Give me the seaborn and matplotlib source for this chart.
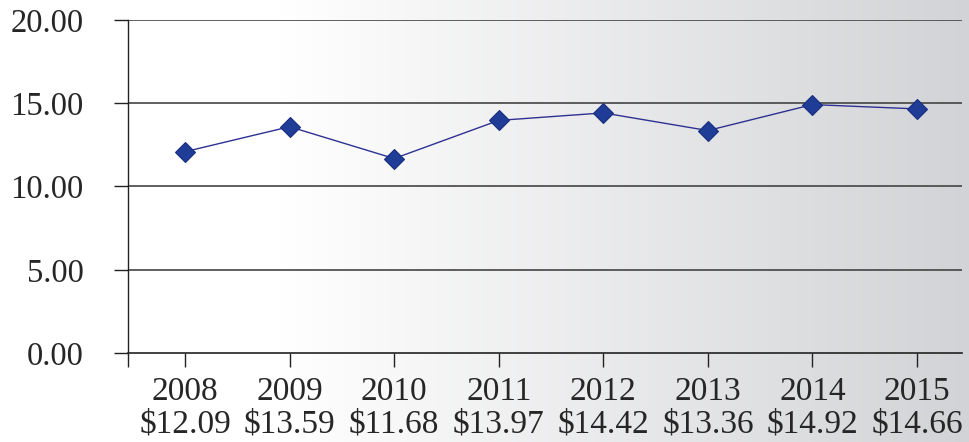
import numpy as np
import matplotlib
matplotlib.use("Agg")
import matplotlib.pyplot as plt
import matplotlib.transforms as mtransforms
import seaborn as sns
from matplotlib.ticker import FixedLocator

sns.set_theme(style="white")
plt.rcParams["font.family"] = ["Liberation Serif", "DejaVu Serif"]

#%% DATA
years = ["2008", "2009", "2010", "2011", "2012", "2013", "2014", "2015"]
prices = [12.09, 13.59, 11.68, 13.97, 14.42, 13.36, 14.92, 14.66]
yticks = [0, 5, 10, 15, 20]

#%% FIGURE
W, H = 970, 442
fig = plt.figure(figsize=(W / 100, H / 100), dpi=100)

# background gradient, white on the left, grey on the right
bg = fig.add_axes([0, 0, 1, 1], zorder=-10)
cols = np.arange(W)
shade = np.clip((cols - 280) / (W - 280), 0, 1)
grad = np.ones((1, W, 3))
grad[0, :, 0] = 1 - shade * (1 - 210 / 255)
grad[0, :, 1] = 1 - shade * (1 - 211 / 255)
grad[0, :, 2] = 1 - shade * (1 - 214 / 255)
bg.imshow(grad, aspect="auto", extent=[0, 1, 0, 1])
bg.axis("off")

ax = fig.add_axes([128 / W, 1 - 353 / H, (962 - 128) / W, (353 - 20) / H])
ax.set_facecolor("none")

x = np.arange(len(years))
sns.lineplot(x=x, y=prices, ax=ax, color="#2e3192", linewidth=1.0,
             marker="D", markersize=10, markerfacecolor="#1f3c96",
             markeredgecolor="#1a2f80", markeredgewidth=0.8, zorder=5)

ax.set_ylim(0, 20)
ax.set_xlim(-0.545, 7.43)
ax.set_yticks(yticks)
ax.set_yticklabels([f"{v:.2f}" for v in yticks], fontsize=23.5)
ax.set_xticks(x)
ax.set_xticklabels([f"{y}\n${p:.2f}" for y, p in zip(years, prices)],
                   fontsize=24, linespacing=1.1)
ax.xaxis.set_minor_locator(FixedLocator([-0.545]))

# labels sit a little left of their ticks in the original
shift = mtransforms.ScaledTranslation(-4 / 100, 0, fig.dpi_scale_trans)
for lab in ax.get_xticklabels():
    lab.set_transform(lab.get_transform() + shift)

for v in yticks[1:]:
    ax.axhline(v, color="#444444", linewidth=1.2, zorder=1)

for s in ["top", "right"]:
    ax.spines[s].set_visible(False)
ax.spines["left"].set_color("#222222")
ax.spines["bottom"].set_color("#222222")
ax.spines["left"].set_linewidth(1.0)
ax.spines["bottom"].set_linewidth(1.2)

ax.tick_params(axis="y", which="major", direction="out", length=10, width=1,
               color="#222222", pad=22, left=True)
ax.tick_params(axis="x", which="both", direction="out", length=10, width=1,
               color="#222222", pad=7, bottom=True)
ax.tick_params(axis="x", which="minor", labelbottom=False)
ax.set_xlabel("")
ax.set_ylabel("")

fig.savefig("out.png", dpi=100)
plt.close()
